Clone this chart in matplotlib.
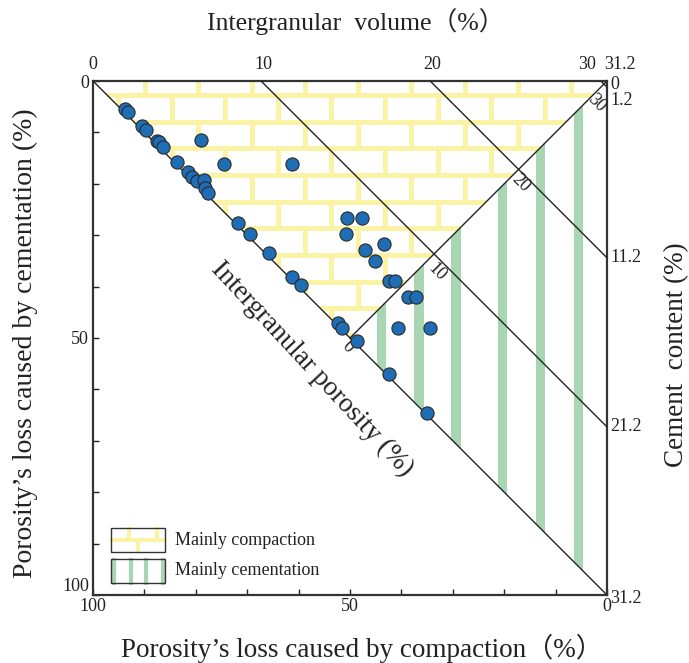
import matplotlib.pyplot as plt
from matplotlib.patches import Polygon, Rectangle

plt.rcParams['font.family'] = ['Liberation Serif', 'Noto Sans CJK SC']

# samples: porosity loss by compaction / cementation (%)
compaction = [93.8, 93.1, 90.5, 89.7, 87.6, 87.1, 86.3, 83.6, 81.6, 80.8,
              79.8, 78.5, 78.3, 77.6, 71.7, 69.5, 65.8, 61.3, 59.5, 52.4,
              51.6, 48.7, 42.5, 35.1,
              78.9, 74.5, 61.2, 50.6, 47.6, 50.8, 47.0, 43.4, 45.1, 42.4,
              41.3, 38.7, 37.2, 40.7, 34.4]
cementation = [5.4, 6.0, 8.8, 9.5, 11.6, 11.9, 12.9, 15.7, 17.8, 18.6,
               19.4, 19.3, 20.9, 21.8, 27.6, 29.8, 33.5, 38.1, 39.7, 47.1,
               48.0, 50.6, 57.0, 64.5,
               11.5, 16.1, 16.1, 26.7, 26.7, 29.8, 32.9, 31.7, 35.0, 38.9,
               38.9, 42.0, 42.0, 48.0, 48.0]

# intergranular volume lines (where they meet the top edge)
igv_start = [67.3, 34.4, 1.2]

top_labels = ['0', '10', '20', '30', '31.2']
top_pos = [100, 66.9, 34.0, 3.9, -2.6]

right_labels = ['0', '1.2', '11.2', '21.2', '31.2']
right_pos = [0.6, 3.7, 34.4, 67.3, 100.6]

porosity_labels = ['0', '10', '20', '30']
porosity_pos = [(50.4, 51.7), (33.1, 37.2), (16.7, 19.8), (2.1, 4.3)]

stripe_pos = [43.8, 36.6, 29.4, 20.4, 13.0, 5.6]

YELLOW = '#faf3a5'
GREEN = '#a9d6b2'
INK = '#222222'

fig = plt.figure(figsize=(6.89, 6.63), dpi=100)
ax = fig.add_axes([93/689, 1-595/663, 514/689, 514/663])
ax.set_xlim(100, 0)
ax.set_ylim(100, 0)

# compaction triangle with brick pattern
tri_comp = Polygon([(100, 0), (0, 0), (50, 50)], closed=True, fc='white', ec='none', zorder=1)
ax.add_patch(tri_comp)
bh, bw = 5.19, 10.37
y0 = 2.72
rows = []
y = y0
while y < 52:
    rows.append(y)
    y += bh
for r in rows:
    ln = ax.hlines(r, -5, 105, color=YELLOW, lw=3.6, zorder=2)
    ln.set_clip_path(tri_comp)
edges = [0] + rows
for i, top in enumerate(edges):
    bot = top + bh if i > 0 else y0
    x = 89.9 - (bw / 2) * (i % 2) + 3 * bw
    while x > -5:
        ln = ax.vlines(x, top, bot, color=YELLOW, lw=3.6, zorder=2)
        ln.set_clip_path(tri_comp)
        x -= bw

# cementation triangle with vertical stripes
tri_cem = Polygon([(0, 0), (0, 100), (50, 50)], closed=True, fc='white', ec='none', zorder=1)
ax.add_patch(tri_cem)
for s in stripe_pos:
    r = ax.axvspan(s - 0.9, s + 0.9, color=GREEN, lw=0, zorder=2)
    r.set_clip_path(tri_cem)

# lines
ax.plot([100, 0], [0, 100], color=INK, lw=1.0, zorder=3)
ax.plot([50, 0], [50, 0], color=INK, lw=1.0, zorder=3)
for s in igv_start:
    ax.plot([s, 0], [0, s], color=INK, lw=1.0, zorder=3)

ax.scatter(compaction, cementation, s=90, c='#1f6db5', edgecolors='#2a2a2a',
           linewidths=0.8, zorder=5)

# axes ticks
ticks = list(range(0, 101, 10))
ticklabels = [str(v) if v in (0, 50, 100) else '' for v in ticks]
ax.set_xticks(ticks)
ax.set_xticklabels(ticklabels)
ax.set_yticks(ticks)
ax.set_yticklabels(ticklabels)
ax.tick_params(direction='in', length=4, width=1, labelsize=13, colors=INK)
ax.tick_params(axis='x', pad=2)
ax.tick_params(axis='y', pad=3)
ax.get_yticklabels()[-1].set_va('bottom')
for sp in ax.spines.values():
    sp.set_linewidth(1.6)
    sp.set_color('#333333')

# top axis labels
for lab, p in zip(top_labels, top_pos):
    ax.text(p, -1.5, lab, ha='center', va='bottom', fontsize=13, color=INK, clip_on=False)

# right axis labels
for lab, p in zip(right_labels, right_pos):
    ax.text(-0.6, p, lab, ha='left', va='center', fontsize=13, color=INK, clip_on=False)

# intergranular porosity labels along the diagonal
for lab, (px, py) in zip(porosity_labels, porosity_pos):
    ax.text(px, py, lab, ha='center', va='center', rotation=-45, fontsize=13, color=INK)
ax.text(57.4, 56.0, 'Intergranular porosity (%)', ha='center', va='center', rotation=-47,
        fontsize=19.5, color=INK)

# legend
ax.add_patch(Rectangle((96.5, 87.0), -10.5, 4.6, fc='white', ec='none', zorder=4))
ax.plot([96.3, 86.2], [89.3, 89.3], color=YELLOW, lw=3, zorder=4.5)
for x in [93.0, 87.6]:
    ax.plot([x, x], [87.2, 89.3], color=YELLOW, lw=3, zorder=4.5)
ax.plot([91.3, 91.3], [89.3, 91.4], color=YELLOW, lw=3, zorder=4.5)
ax.add_patch(Rectangle((96.5, 93.0), -10.5, 4.7, fc='white', ec='none', zorder=4))
for x in [96.0, 92.6, 89.6, 86.4]:
    ax.plot([x, x], [93.1, 97.6], color=GREEN, lw=3, zorder=4.5)
ax.add_patch(Rectangle((96.5, 87.0), -10.5, 4.6, fc='none', ec='#333333', lw=1, zorder=5))
ax.add_patch(Rectangle((96.5, 93.0), -10.5, 4.7, fc='none', ec='#333333', lw=1, zorder=5))
ax.text(84.0, 89.3, 'Mainly compaction', ha='left', va='center', fontsize=13, color=INK)
ax.text(84.0, 95.3, 'Mainly cementation', ha='left', va='center', fontsize=13, color=INK)

# axis titles
fig.text(356/689, 1-22/663, 'Intergranular  volume（%）', ha='center', va='center', fontsize=18.5, color=INK)
fig.text(362/689, 1-648/663, 'Porosity’s loss caused by compaction（%）', ha='center', va='center', fontsize=19.5, color=INK)
fig.text(25/689, 1-343/663, 'Porosity’s loss caused by cementation (%)', ha='center', va='center', rotation=90, fontsize=20, color=INK)
fig.text(677/689, 1-355/663, 'Cement  content (%)', ha='center', va='center', rotation=90, fontsize=19.5, color=INK)

fig.savefig('out.png', dpi=100)
